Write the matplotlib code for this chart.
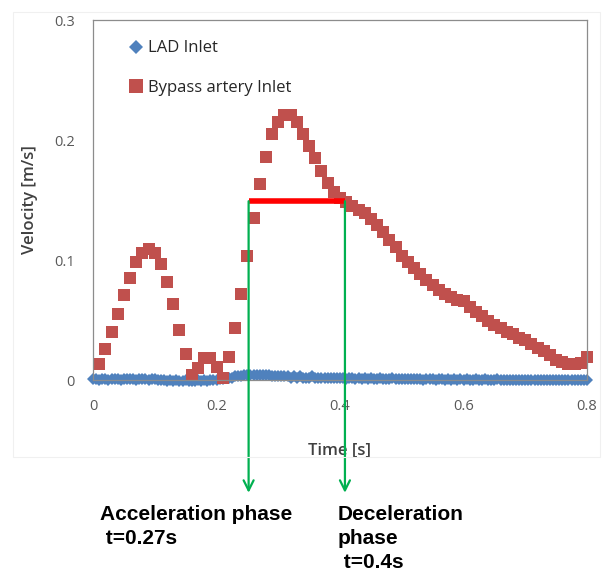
import numpy as np
import matplotlib
matplotlib.use('Agg')
import matplotlib.pyplot as plt
from matplotlib.patches import Rectangle

plt.rcParams['font.family'] = ['Open Sans', 'DejaVu Sans']

# Bypass artery inlet velocity, one point every 0.01 s from 0.01 to 0.80 s
t_bypass = np.round(np.arange(1, 81) * 0.01, 2)
v_bypass = [
    0.013, 0.026, 0.040, 0.055, 0.071, 0.085, 0.098, 0.106, 0.109, 0.106,
    0.097, 0.082, 0.063, 0.042, 0.022, 0.004, 0.010, 0.018, 0.018, 0.011,
    0.002, 0.019, 0.043, 0.072, 0.103, 0.135, 0.163, 0.186, 0.205, 0.215,
    0.221, 0.221, 0.215, 0.205, 0.195, 0.185, 0.174, 0.164, 0.157, 0.152,
    0.148, 0.145, 0.142, 0.139, 0.134, 0.129, 0.123, 0.117, 0.111, 0.103,
    0.098, 0.093, 0.088, 0.083, 0.079, 0.075, 0.072, 0.069, 0.067, 0.066,
    0.061, 0.057, 0.053, 0.049, 0.046, 0.043, 0.040, 0.038, 0.035, 0.033,
    0.030, 0.027, 0.024, 0.021, 0.017, 0.015, 0.013, 0.013, 0.014, 0.019,
]

# LAD inlet velocity, one point every 0.005 s from 0 to 0.80 s
t_lad = np.round(np.arange(0, 161) * 0.005, 3)
v_lad = [
    0.001, 0.001, 0.000, 0.001, 0.001, 0.000, 0.001, 0.001, 0.001, 0.000,
    0.001, 0.001, 0.001, 0.001, 0.000, 0.001, 0.001, 0.001, 0.000, 0.001,
    0.001, 0.000, 0.000, 0.000, -0.001, 0.000, -0.001, 0.000, -0.001, -0.001,
    0.000, -0.001, -0.001, -0.001, 0.000, -0.001, 0.000, -0.001, 0.000, 0.000,
    0.000, 0.001, 0.001, 0.002, 0.002, 0.002, 0.003, 0.003, 0.003, 0.004,
    0.004, 0.004, 0.004, 0.004, 0.004, 0.004, 0.004, 0.004, 0.003, 0.003,
    0.003, 0.003, 0.003, 0.003, 0.002, 0.003, 0.002, 0.003, 0.002, 0.002,
    0.002, 0.003, 0.002, 0.002, 0.002, 0.002, 0.002, 0.002, 0.002, 0.002,
    0.002, 0.002, 0.001, 0.002, 0.002, 0.001, 0.002, 0.001, 0.002, 0.001,
    0.002, 0.001, 0.001, 0.002, 0.001, 0.001, 0.001, 0.002, 0.001, 0.001,
    0.001, 0.001, 0.001, 0.001, 0.001, 0.001, 0.001, 0.000, 0.001, 0.001,
    0.001, 0.000, 0.001, 0.001, 0.000, 0.001, 0.000, 0.001, 0.000, 0.001,
    0.000, 0.001, 0.000, 0.000, 0.001, 0.000, 0.000, 0.001, 0.000, 0.000,
    0.000, 0.001, 0.000, 0.000, 0.000, 0.000, 0.000, 0.000, 0.000, 0.000,
    0.000, 0.000, 0.000, 0.000, 0.000, 0.000, 0.000, 0.000, 0.000, 0.000,
    0.000, 0.000, 0.000, 0.000, 0.000, 0.000, 0.000, 0.000, 0.000, 0.000,
    0.000,
]

# phase markers
t_accel = 0.252
t_decel = 0.408
v_phase = 0.149
x_ticks = [0, 0.2, 0.4, 0.6, 0.8]
y_ticks = [0, 0.1, 0.2, 0.3]

W, H = 605, 581
fig = plt.figure(figsize=(W / 100, H / 100), dpi=100)
fig.patches.append(Rectangle((13 / W, 1 - 457 / H), 587 / W, 445 / H,
                             transform=fig.transFigure, fill=False,
                             edgecolor='#f0f0f0', lw=0.8))
ax = fig.add_axes([93 / W, 1 - 380 / H, (587 - 93) / W, (380 - 20) / H])

ax.plot(t_lad, v_lad, linestyle='none', marker='D', ms=6, mew=0,
        color='#4F81BD', label='LAD Inlet', clip_on=False)
ax.plot(t_bypass, v_bypass, linestyle='none', marker='s', ms=8.5, mew=0,
        color='#C0504D', label='Bypass artery Inlet', clip_on=False)

ax.plot([t_accel, t_decel], [v_phase, v_phase], color='red', lw=4,
        solid_capstyle='butt', zorder=4)
for tx in (t_accel, t_decel):
    ax.annotate('', xy=(tx, -0.094), xytext=(tx, v_phase),
                arrowprops=dict(arrowstyle='->', color='#00B050', lw=1.6,
                                mutation_scale=18, shrinkA=0, shrinkB=0),
                annotation_clip=False, zorder=5)

ax.set_xlim(0, 0.8)
ax.set_ylim(0, 0.3)
ax.set_xticks(x_ticks)
ax.set_xticklabels(['0', '0.2', '0.4', '0.6', '0.8'])
ax.set_yticks(y_ticks)
ax.set_yticklabels(['0', '0.1', '0.2', '0.3'])
ax.tick_params(length=0, labelsize=10.5, labelcolor='#595959')
ax.tick_params(axis='x', pad=14)
ax.tick_params(axis='y', pad=13)
for s in ax.spines.values():
    s.set_color('#8c8c8c')
    s.set_linewidth(0.9)

ax.set_xlabel('Time [s]', fontsize=12, fontweight='semibold', color='#404040',
              labelpad=20)
ax.set_ylabel('Velocity [m/s]', fontsize=12, fontweight='semibold',
              color='#404040', labelpad=12)

ax.legend(loc='upper left', bbox_to_anchor=(118 / W, 1 - 32 / H),
          bbox_transform=fig.transFigure, frameon=False, fontsize=12,
          labelspacing=1.4, handletextpad=0.1, handlelength=1.2,
          borderpad=0, markerscale=1.15, labelcolor='#262626')

narrow = ['Liberation Sans Narrow', 'Liberation Sans', 'DejaVu Sans']
fig.text(100 / W, 1 - 505 / H, 'Acceleration phase\n t=0.27s', family=narrow,
         fontweight='bold', fontsize=15, va='top', linespacing=1.35)
fig.text(338 / W, 1 - 505 / H, 'Deceleration\nphase\n t=0.4s', family=narrow,
         fontweight='bold', fontsize=15, va='top', linespacing=1.35)

fig.savefig('out.png', dpi=100)
